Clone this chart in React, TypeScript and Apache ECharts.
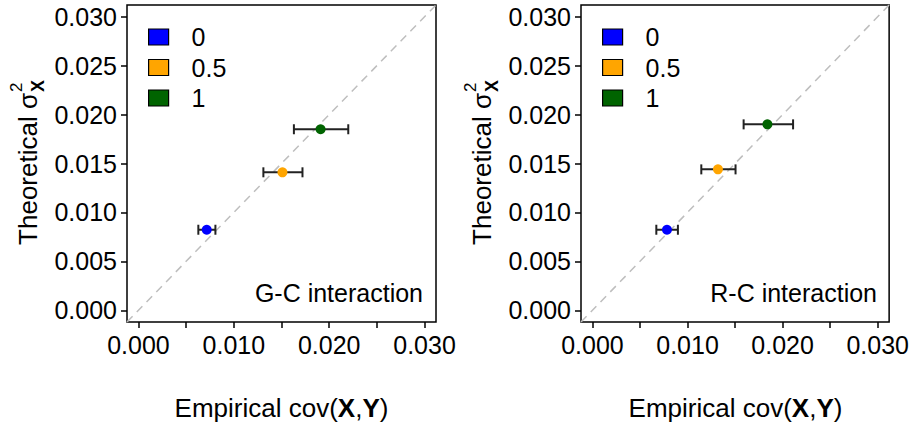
import React, { useEffect, useRef } from "react";
import * as echarts from "echarts";

// ---- data ----
const groups = ["0", "0.5", "1"];
const groupColors = ["#0000FF", "#FFA500", "#006400"];

// G-C interaction panel
const gcEmpirical = [0.00716, 0.0151, 0.0191];
const gcTheoretical = [0.00823, 0.0141, 0.0185];
const gcLow = [0.00628, 0.0131, 0.0163];
const gcHigh = [0.00807, 0.0172, 0.022];

// R-C interaction panel
const rcEmpirical = [0.00784, 0.0132, 0.0184];
const rcTheoretical = [0.00823, 0.0144, 0.019];
const rcLow = [0.00672, 0.01145, 0.0159];
const rcHigh = [0.00899, 0.01505, 0.0211];

const axisMin = -0.0012;
const axisMax = 0.0312;
const tickValues = [0, 0.005, 0.01, 0.015, 0.02, 0.025, 0.03];
const xLabelValues = [0, 0.01, 0.02, 0.03];
const yLabelValues = [0, 0.005, 0.01, 0.015, 0.02, 0.025, 0.03];
const diagonal = [axisMin, axisMax];

const FONT = "'Liberation Sans', Arial, Helvetica, sans-serif";

export default function App() {
  const ref = useRef<HTMLDivElement>(null);
  useEffect(() => {
    document.body.style.margin = "0";
    const chart = echarts.init(ref.current!, null, { renderer: "svg" });

    const panels = [
      { left: 127, emp: gcEmpirical, th: gcTheoretical, lo: gcLow, hi: gcHigh, label: "G-C interaction" },
      { left: 581, emp: rcEmpirical, th: rcTheoretical, lo: rcLow, hi: rcHigh, label: "R-C interaction" },
    ];
    const gw = 309;
    const gh = 317;
    const gtop = 5;

    const grid: any[] = [];
    const xAxis: any[] = [];
    const yAxis: any[] = [];
    const series: any[] = [];
    const legend: any[] = [];
    const graphic: any[] = [];

    panels.forEach((p, i) => {
      grid.push({
        left: p.left, top: gtop, width: gw, height: gh,
        show: true, borderColor: "#000", borderWidth: 1.5, backgroundColor: "transparent",
      });
      xAxis.push({
        type: "value", gridIndex: i, min: axisMin, max: axisMax,
        axisLine: { show: false, onZero: false },
        splitLine: { show: false },
        axisTick: { show: true, length: 6, customValues: tickValues, lineStyle: { color: "#000", width: 1.5 } },
        axisLabel: {
          customValues: xLabelValues, formatter: (v: number) => v.toFixed(3),
          fontSize: 25, color: "#000", margin: 10, fontFamily: FONT,
        },
      });
      yAxis.push({
        type: "value", gridIndex: i, min: axisMin, max: axisMax,
        axisLine: { show: false, onZero: false },
        splitLine: { show: false },
        axisTick: { show: true, length: 6, customValues: tickValues, lineStyle: { color: "#000", width: 1.5 } },
        axisLabel: {
          customValues: yLabelValues, formatter: (v: number) => v.toFixed(3),
          fontSize: 25, color: "#000", margin: 10, fontFamily: FONT,
        },
      });
      series.push({
        type: "line", xAxisIndex: i, yAxisIndex: i,
        data: [[diagonal[0], diagonal[0]], [diagonal[1], diagonal[1]]],
        symbol: "none", silent: true,
        lineStyle: { color: "#BEBEBE", width: 1.5, type: [8, 6] },
        z: 1,
      });
      series.push({
        type: "custom", xAxisIndex: i, yAxisIndex: i,
        data: p.emp.map((x, k) => [x, p.th[k], p.lo[k], p.hi[k]]),
        encode: { x: [0, 2, 3], y: 1 },
        z: 2,
        renderItem: (params: any, api: any) => {
          const y = api.value(1);
          const a = api.coord([api.value(2), y]);
          const b = api.coord([api.value(3), y]);
          const h = 5;
          const st = { stroke: "#222", lineWidth: 2 };
          return {
            type: "group",
            children: [
              { type: "line", shape: { x1: a[0], y1: a[1], x2: b[0], y2: b[1] }, style: st },
              { type: "line", shape: { x1: a[0], y1: a[1] - h, x2: a[0], y2: a[1] + h }, style: st },
              { type: "line", shape: { x1: b[0], y1: b[1] - h, x2: b[0], y2: b[1] + h }, style: st },
            ],
          };
        },
      });
      groups.forEach((g, k) => {
        series.push({
          type: "scatter", name: g, xAxisIndex: i, yAxisIndex: i,
          data: [[p.emp[k], p.th[k]]],
          symbol: "circle", symbolSize: 10,
          itemStyle: { color: groupColors[k], opacity: 1 },
          z: 3,
        });
      });
      legend.push({
        data: groups, orient: "vertical",
        left: p.left + 21, top: 24.5, padding: 0,
        icon: "rect", itemWidth: 20, itemHeight: 16, itemGap: 5.5,
        itemStyle: { borderColor: "#000", borderWidth: 1.2, opacity: 1 },
        textStyle: { fontSize: 25, color: "#000", fontFamily: FONT, lineHeight: 25, padding: [0, 0, 0, 18] },
        selectedMode: false,
      });
      // panel annotation
      graphic.push({
        type: "text",
        x: p.left + 296, y: 293,
        style: { text: p.label, fontSize: 25, fill: "#000", fontFamily: FONT, align: "right", verticalAlign: "middle" },
      });
      // x axis title
      graphic.push({
        type: "text",
        x: p.left + gw / 2, y: 408,
        style: {
          text: "Empirical cov({b|X},{b|Y})",
          rich: { b: { fontWeight: "bold", fontSize: 26, fontFamily: FONT, fill: "#000" } },
          fontSize: 26, fill: "#000", fontFamily: FONT, align: "center", verticalAlign: "middle",
        },
      });
      // y axis title (rotated)
      const yx = p.left - 99;
      graphic.push({
        type: "group",
        x: yx, y: 93, rotation: Math.PI / 2,
        children: [
          { type: "text", x: 0, y: 0, style: { text: "Theoretical σ", fontSize: 26, fill: "#000", fontFamily: FONT, align: "right", verticalAlign: "middle" } },
          { type: "text", x: 1, y: 10, style: { text: "X", fontSize: 18, fontWeight: "bold", fill: "#000", fontFamily: FONT, align: "left", verticalAlign: "middle" } },
          { type: "text", x: 1, y: -12, style: { text: "2", fontSize: 17, fill: "#000", fontFamily: FONT, align: "left", verticalAlign: "middle" } },
        ],
      });
    });

    chart.setOption({
      animation: false,
      textStyle: { fontFamily: FONT },
      grid, xAxis, yAxis, series, legend, graphic,
    });
    return () => chart.dispose();
  }, []);
  return <div ref={ref} style={{ width: 912, height: 429 }} />;
}
